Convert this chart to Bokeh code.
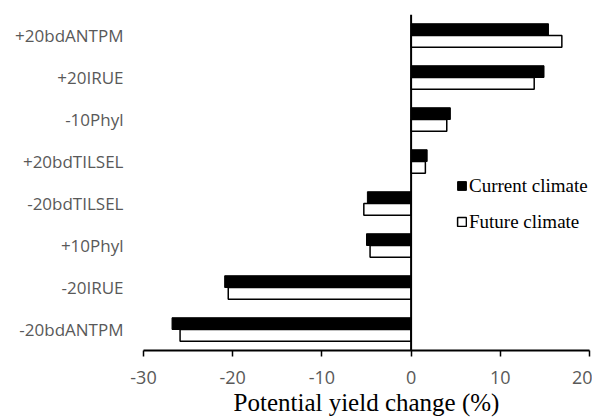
from bokeh.plotting import figure
from bokeh.models import FactorRange, Range1d, Span, Legend, LegendItem, FixedTicker
from bokeh.transform import dodge
from bokeh.embed import file_html
from bokeh.resources import INLINE
from bokeh.models import ColumnDataSource

categories = ["+20bdANTPM", "+20IRUE", "-10Phyl", "+20bdTILSEL",
              "-20bdTILSEL", "+10Phyl", "-20IRUE", "-20bdANTPM"]
current_climate = [15.4, 14.9, 4.4, 1.8, -4.9, -5.0, -20.9, -26.8]
future_climate = [16.9, 13.8, 4.0, 1.6, -5.3, -4.6, -20.5, -25.9]
x_ticks = [-30, -20, -10, 0, 10, 20]
x_tick_labels = ["-30", "-20", "-10", "0", "10", "20"]
x_title = "Potential yield change (%)"

src = ColumnDataSource(dict(cat=categories, cur=current_climate, fut=future_climate))

p = figure(width=592, height=419, output_backend="svg", toolbar_location=None,
           y_range=FactorRange(*list(reversed(categories)), range_padding=0),
           x_range=Range1d(x_ticks[0], x_ticks[-1]),
           min_border_left=143, min_border_right=3, min_border_top=14, min_border_bottom=69)

r_cur = p.hbar(y=dodge("cat", 0.14, range=p.y_range), right="cur", left=0, height=0.28,
               source=src, fill_color="black", line_color="black", line_width=1)
r_fut = p.hbar(y=dodge("cat", -0.14, range=p.y_range), right="fut", left=0, height=0.28,
               source=src, fill_color="white", line_color="black", line_width=1.5)

p.add_layout(Span(location=0, dimension="height", line_color="black", line_width=2))

p.xgrid.grid_line_color = None
p.ygrid.grid_line_color = None
p.outline_line_color = None
p.background_fill_color = "white"
p.border_fill_color = "white"

xa = p.xaxis[0]
xa.ticker = FixedTicker(ticks=x_ticks)
xa.major_label_overrides = {t: s for t, s in zip(x_ticks, x_tick_labels)}
xa.axis_line_color = "black"
xa.axis_line_width = 2
xa.major_tick_line_color = "black"
xa.major_tick_line_width = 1.5
xa.major_tick_in = 0
xa.major_tick_out = 6
xa.minor_tick_line_color = None
xa.major_label_text_font = "Open Sans"
xa.major_label_text_font_size = "18px"
xa.major_label_text_color = "#595959"
xa.major_label_standoff = 14
xa.axis_label = x_title
xa.axis_label_text_font = "Liberation Serif"
xa.axis_label_text_font_style = "normal"
xa.axis_label_text_font_size = "25px"
xa.axis_label_text_color = "black"
xa.axis_label_standoff = 2

ya = p.yaxis[0]
ya.axis_line_color = None
ya.major_tick_line_color = None
ya.minor_tick_line_color = None
ya.major_tick_out = 0
ya.major_tick_in = 0
ya.major_label_text_font = "Open Sans"
ya.major_label_text_font_size = "17px"
ya.major_label_text_color = "#595959"
ya.major_label_standoff = 20

legend = Legend(items=[LegendItem(label="Current climate", renderers=[r_cur]),
                       LegendItem(label="Future climate", renderers=[r_fut])],
                location=(313, 117), orientation="vertical")
legend.background_fill_alpha = 0
legend.border_line_color = None
legend.padding = 0
legend.margin = 0
legend.spacing = 13
legend.glyph_width = 11
legend.glyph_height = 11
legend.label_standoff = 2
legend.label_height = 23
legend.label_text_font = "Liberation Serif"
legend.label_text_font_size = "19px"
legend.label_text_color = "black"
p.add_layout(legend)

open("out.html", "w").write(file_html(p, INLINE))
